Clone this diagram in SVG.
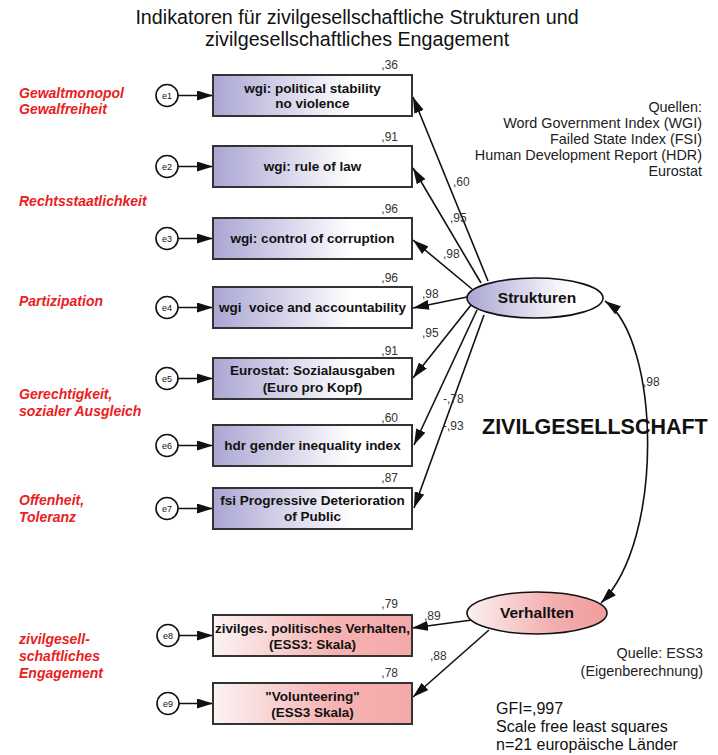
<svg xmlns="http://www.w3.org/2000/svg" width="718" height="755" viewBox="0 0 718 755">
<style>
text{font-family:"Liberation Sans",Arial,sans-serif}
.title{font-size:19.7px;fill:#111;text-anchor:middle}
.bx{stroke:#333;stroke-width:2}
.blue{fill:url(#gBlue)}
.pink{fill:url(#gPink)}
.bt{font-size:13.5px;font-weight:bold;fill:#111;text-anchor:middle;white-space:pre}
.num{font-size:12px;fill:#333}
.numr{font-size:12px;fill:#333;text-anchor:end}
.ec{fill:#fff;stroke:#111;stroke-width:1.6}
.et{font-size:9px;fill:#111;text-anchor:middle}
.red{font-size:14px;font-weight:bold;font-style:italic;fill:#e82121}
.src{font-size:14.4px;fill:#222;text-anchor:end}
.gfi{font-size:16px;fill:#111}
.lat{font-size:15.5px;font-weight:bold;fill:#111;text-anchor:middle}
.big{font-size:21.5px;font-weight:bold;fill:#111}
.cn{fill:none;stroke:#111;stroke-width:1.6}
</style>
<defs>
<linearGradient id="gBlue" x1="0" y1="0" x2="1" y2="0">
<stop offset="0" stop-color="#aaa6d3"/>
<stop offset="0.7" stop-color="#ffffff"/>
<stop offset="1" stop-color="#ffffff"/>
</linearGradient>
<linearGradient id="gPink" x1="0" y1="0" x2="1" y2="0">
<stop offset="0" stop-color="#fbf3f3"/>
<stop offset="0.6" stop-color="#f6b3b3"/>
<stop offset="1" stop-color="#f4a9a9"/>
</linearGradient>
<linearGradient id="gEllB" x1="0" y1="0" x2="1" y2="0">
<stop offset="0" stop-color="#a9a5d2"/>
<stop offset="0.75" stop-color="#ffffff"/>
<stop offset="1" stop-color="#ffffff"/>
</linearGradient>
<linearGradient id="gEllP" x1="0" y1="0" x2="1" y2="0">
<stop offset="0" stop-color="#fbf1f1"/>
<stop offset="0.6" stop-color="#f3b0b0"/>
<stop offset="1" stop-color="#f19c9c"/>
</linearGradient>
<marker id="ah" markerUnits="userSpaceOnUse" markerWidth="16" markerHeight="10" refX="16" refY="5" orient="auto-start-reverse">
<path d="M0,0 L16,5 L0,10 z" fill="#111"/>
</marker>
</defs>

<rect width="718" height="755" fill="#fff"/>

<g id="title">
<text class="title" x="357" y="24">Indikatoren für zivilgesellschaftliche Strukturen und</text>
<text class="title" x="357" y="46">zivilgesellschaftliches Engagement</text>
</g>

<g id="labels-red">
<text class="red" x="19" y="98">Gewaltmonopol</text>
<text class="red" x="19" y="114">Gewalfreiheit</text>
<text class="red" x="19" y="206">Rechtsstaatlichkeit</text>
<text class="red" x="19" y="306">Partizipation</text>
<text class="red" x="19" y="399">Gerechtigkeit,</text>
<text class="red" x="19" y="416">sozialer Ausgleich</text>
<text class="red" x="19" y="505">Offenheit,</text>
<text class="red" x="19" y="522">Toleranz</text>
<text class="red" x="19" y="644">zivilgesell-</text>
<text class="red" x="19" y="661">schaftliches</text>
<text class="red" x="19" y="678">Engagement</text>
</g>

<g id="connectors">
<line class="cn" x1="178" y1="95.5" x2="213" y2="95.5" marker-end="url(#ah)"/>
<line class="cn" x1="178" y1="166.5" x2="213" y2="166.5" marker-end="url(#ah)"/>
<line class="cn" x1="178" y1="238.5" x2="213" y2="238.5" marker-end="url(#ah)"/>
<line class="cn" x1="178" y1="307.5" x2="213" y2="307.5" marker-end="url(#ah)"/>
<line class="cn" x1="178" y1="378.5" x2="213" y2="378.5" marker-end="url(#ah)"/>
<line class="cn" x1="178" y1="445.5" x2="213" y2="445.5" marker-end="url(#ah)"/>
<line class="cn" x1="178" y1="508.5" x2="213" y2="508.5" marker-end="url(#ah)"/>
<line class="cn" x1="179" y1="635.5" x2="213" y2="635.5" marker-end="url(#ah)"/>
<line class="cn" x1="179" y1="703.5" x2="213" y2="703.5" marker-end="url(#ah)"/>
<line class="cn" x1="488" y1="281" x2="413" y2="97" marker-end="url(#ah)"/>
<line class="cn" x1="481" y1="283" x2="413" y2="168" marker-end="url(#ah)"/>
<line class="cn" x1="472" y1="289" x2="413" y2="240" marker-end="url(#ah)"/>
<line class="cn" x1="467" y1="297" x2="413" y2="308" marker-end="url(#ah)"/>
<line class="cn" x1="471" y1="305" x2="413" y2="378" marker-end="url(#ah)"/>
<line class="cn" x1="477" y1="310" x2="414" y2="445" marker-end="url(#ah)"/>
<line class="cn" x1="484" y1="315" x2="414" y2="508" marker-end="url(#ah)"/>
<line class="cn" x1="472" y1="620" x2="412" y2="628" marker-end="url(#ah)"/>
<line class="cn" x1="489" y1="630" x2="413" y2="697" marker-end="url(#ah)"/>
<path class="cn" d="M605,301 C660,340 665,540 601,603" marker-start="url(#ah)" marker-end="url(#ah)"/>
</g>

<g id="path-labels">
<text class="num" x="453" y="186">,60</text>
<text class="num" x="450" y="222">,95</text>
<text class="num" x="443" y="258">,98</text>
<text class="num" x="422" y="298">,98</text>
<text class="num" x="422" y="337">,95</text>
<text class="num" x="443" y="403">-,78</text>
<text class="num" x="443" y="430">-,93</text>
<text class="num" x="643" y="386">,98</text>
<text class="num" x="424" y="620">,89</text>
<text class="num" x="430" y="660">,88</text>
</g>

<g id="e1"><circle class="ec" cx="167" cy="95.5" r="11"/><text class="et" x="167" y="98.5">e1</text></g>
<g id="e2"><circle class="ec" cx="167" cy="166.5" r="11"/><text class="et" x="167" y="169.5">e2</text></g>
<g id="e3"><circle class="ec" cx="167" cy="238.5" r="11"/><text class="et" x="167" y="241.5">e3</text></g>
<g id="e4"><circle class="ec" cx="167" cy="307.5" r="11"/><text class="et" x="167" y="310.5">e4</text></g>
<g id="e5"><circle class="ec" cx="167" cy="378.5" r="11"/><text class="et" x="167" y="381.5">e5</text></g>
<g id="e6"><circle class="ec" cx="167" cy="445.5" r="11"/><text class="et" x="167" y="448.5">e6</text></g>
<g id="e7"><circle class="ec" cx="167" cy="508.5" r="11"/><text class="et" x="167" y="511.5">e7</text></g>
<g id="e8"><circle class="ec" cx="168" cy="635.5" r="11"/><text class="et" x="168" y="638.5">e8</text></g>
<g id="e9"><circle class="ec" cx="168" cy="703.5" r="11"/><text class="et" x="168" y="706.5">e9</text></g>

<g id="box1"><rect class="bx blue" x="213" y="75" width="199" height="41"/>
<text class="bt" x="312.5" y="93">wgi: political stability</text><text class="bt" x="312.5" y="108">no violence</text>
<text class="numr" x="398" y="69">,36</text></g>
<g id="box2"><rect class="bx blue" x="213" y="146" width="199" height="41"/>
<text class="bt" x="312.5" y="171">wgi: rule of law</text>
<text class="numr" x="398" y="141">,91</text></g>
<g id="box3"><rect class="bx blue" x="213" y="218" width="199" height="41"/>
<text class="bt" x="312.5" y="243">wgi: control of corruption</text>
<text class="numr" x="398" y="213">,96</text></g>
<g id="box4"><rect class="bx blue" x="213" y="287" width="199" height="41"/>
<text class="bt" x="312.5" y="312" xml:space="preserve">wgi  voice and accountability</text>
<text class="numr" x="398" y="282">,96</text></g>
<g id="box5"><rect class="bx blue" x="213" y="358" width="199" height="41"/>
<text class="bt" x="312.5" y="375">Eurostat: Sozialausgaben</text><text class="bt" x="312.5" y="392">(Euro pro Kopf)</text>
<text class="numr" x="398" y="355">,91</text></g>
<g id="box6"><rect class="bx blue" x="213" y="425" width="199" height="41"/>
<text class="bt" x="312.5" y="450">hdr gender inequality index</text>
<text class="numr" x="398" y="422">,60</text></g>
<g id="box7"><rect class="bx blue" x="213" y="488" width="199" height="41"/>
<text class="bt" x="312.5" y="505">fsi Progressive Deterioration</text><text class="bt" x="312.5" y="521">of Public</text>
<text class="numr" x="398" y="482">,87</text></g>
<g id="box8"><rect class="bx pink" x="213" y="615" width="199" height="41"/>
<text class="bt" x="312.5" y="633">zivilges. politisches Verhalten,</text><text class="bt" x="312.5" y="649">(ESS3: Skala)</text>
<text class="numr" x="398" y="608">,79</text></g>
<g id="box9"><rect class="bx pink" x="213" y="683" width="199" height="41"/>
<text class="bt" x="312.5" y="701">"Volunteering"</text><text class="bt" x="312.5" y="717">(ESS3 Skala)</text>
<text class="numr" x="398" y="677">,78</text></g>

<g id="strukturen"><ellipse cx="535" cy="298" rx="68" ry="20" fill="url(#gEllB)" stroke="#111" stroke-width="1.6"/>
<text class="lat" x="537" y="303">Strukturen</text></g>
<g id="verhallten"><ellipse cx="537" cy="613" rx="70" ry="21" fill="url(#gEllP)" stroke="#111" stroke-width="1.6"/>
<text class="lat" x="537" y="618">Verhallten</text></g>

<g id="zivilgesellschaft"><text class="big" x="482" y="434">ZIVILGESELLSCHAFT</text></g>

<g id="sources">
<text class="src" x="702" y="112">Quellen:</text>
<text class="src" x="702" y="128">Word Government Index (WGI)</text>
<text class="src" x="702" y="144">Failed State Index (FSI)</text>
<text class="src" x="702" y="160">Human Development Report (HDR)</text>
<text class="src" x="702" y="176">Eurostat</text>
<text class="src" x="703" y="658">Quelle: ESS3</text>
<text class="src" x="703" y="676">(Eigenberechnung)</text>
</g>

<g id="fit">
<text class="gfi" x="496" y="714">GFI=,997</text>
<text class="gfi" x="496" y="732">Scale free least squares</text>
<text class="gfi" x="496" y="750">n=21 europäische Länder</text>
</g>
</svg>
